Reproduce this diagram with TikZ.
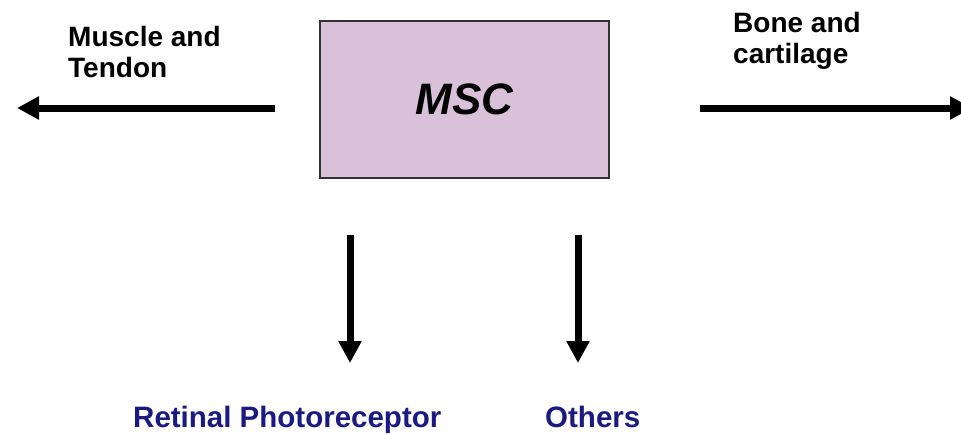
\documentclass[tikz,border=0pt]{standalone}
\usepackage{fontspec}
\setmainfont{Liberation Sans}
\usetikzlibrary{arrows.meta}
\definecolor{boxfill}{HTML}{D9C2D9}
\definecolor{navytext}{HTML}{1A1A80}
\tikzset{
  msc/.style={draw=black!80, line width=1.5pt, fill=boxfill, minimum width=289pt, minimum height=157pt, inner sep=0pt, font=\fontsize{44}{48}\selectfont\bfseries\itshape},
  lbl/.style={anchor=base west, inner sep=0pt, align=left, font=\fontsize{28}{31}\selectfont\bfseries},
  bluelbl/.style={lbl, text=navytext, font=\fontsize{29.5}{31}\selectfont\bfseries},
  bigarrow/.style={line width=7pt, -{Triangle[length=22pt,width=22pt]}}
}
\begin{document}
\begin{tikzpicture}[x=1pt,y=-1pt]
\useasboundingbox (0,0) rectangle (961,434);
\clip (0,0) rectangle (961,434);
\node[msc] (msc) at (464.5,99.5) {MSC};
\node[lbl] (muscle) at (68,77) {Muscle and\\Tendon};
\node[lbl] (bone) at (733,63) {Bone and\\cartilage};
\node[bluelbl] (retinal) at (133,427) {Retinal Photoreceptor};
\node[bluelbl] (others) at (545,427) {Others};
\coordinate (ls) at (275,108);
\coordinate (le) at (17,108);
\coordinate (rs) at (700,108);
\coordinate (re) at (972,108);
\coordinate (d1s) at (350,235);
\coordinate (d1e) at (350,363);
\coordinate (d2s) at (578,235);
\coordinate (d2e) at (578,363);
\draw[bigarrow] (ls) -- (le);
\draw[bigarrow] (rs) -- (re);
\draw[bigarrow] (d1s) -- (d1e);
\draw[bigarrow] (d2s) -- (d2e);
\end{tikzpicture}
\end{document}
